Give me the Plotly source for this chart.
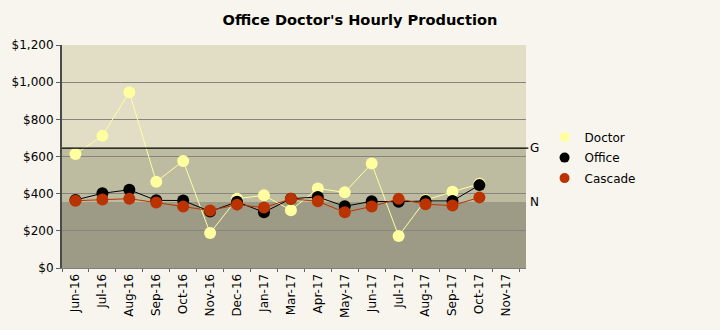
import plotly.graph_objects as go

categories = ["Jun-16", "Jul-16", "Aug-16", "Sep-16", "Oct-16", "Nov-16", "Dec-16",
              "Jan-17", "Mar-17", "Apr-17", "May-17", "Jun-17", "Jul-17", "Aug-17",
              "Sep-17", "Oct-17", "Nov-17"]
doctor = [613, 711, 946, 464, 576, 188, 373, 391, 311, 428, 407, 562, 172, 366, 410, 453, None]
office = [366, 402, 421, 364, 363, 304, 356, 300, 373, 382, 332, 359, 356, 361, 361, 446, None]
cascade = [362, 368, 373, 352, 331, 309, 341, 325, 372, 359, 300, 331, 372, 343, 336, 380, None]
goal_value = 645
norm_value = 355
y_max = 1200

FONT = "DejaVu Sans"

fig = go.Figure()
series = [("Doctor", doctor, "#FFFFA0"),
          ("Office", office, "#000000"),
          ("Cascade", cascade, "#BB3300")]
for name, vals, col in series:
    fig.add_trace(go.Scatter(
        x=categories, y=vals, name=name, mode="lines+markers",
        line=dict(color=col, width=1),
        marker=dict(color=col, size=12, line=dict(width=0)),
        connectgaps=False, showlegend=False, legendgroup=name,
    ))
# legend-only marker entries
for name, vals, col in series:
    fig.add_trace(go.Scatter(
        x=[None], y=[None], name=name, mode="markers",
        marker=dict(color=col, size=10, line=dict(width=0)),
        showlegend=True, legendgroup=name,
    ))

# bands
fig.add_shape(type="rect", xref="paper", yref="y", x0=0, x1=1, y0=goal_value, y1=y_max,
              fillcolor="#E2DEC6", line=dict(width=0), layer="below")
fig.add_shape(type="rect", xref="paper", yref="y", x0=0, x1=1, y0=norm_value, y1=goal_value,
              fillcolor="#BDBCA0", line=dict(width=0), layer="below")
fig.add_shape(type="rect", xref="paper", yref="y", x0=0, x1=1, y0=0, y1=norm_value,
              fillcolor="#9D9B85", line=dict(width=0), layer="below")
# goal line
fig.add_shape(type="line", xref="paper", yref="y", x0=0, x1=1.005, y0=goal_value, y1=goal_value,
              line=dict(color="#000000", width=1.2), layer="above")

fig.add_annotation(xref="paper", yref="y", x=1.005, y=goal_value, text="G", showarrow=False,
                   xanchor="left", yanchor="middle", font=dict(family=FONT, size=12, color="#000"))
fig.add_annotation(xref="paper", yref="y", x=1.005, y=norm_value, text="N", showarrow=False,
                   xanchor="left", yanchor="middle", font=dict(family=FONT, size=12, color="#000"))

fig.update_layout(
    width=720, height=330,
    margin=dict(l=61, r=194, t=45, b=60),
    paper_bgcolor="#F8F5EE",
    plot_bgcolor="#9D9B85",
    font=dict(family=FONT, size=12, color="#000000"),
    title=dict(text="<b>Office Doctor's Hourly Production</b>", x=0.5, xref="container",
               xanchor="center", y=0.94, yanchor="middle",
               font=dict(family=FONT, size=14.6, color="#000")),
    showlegend=True,
    legend=dict(x=1.04, y=0.652, xanchor="left", yanchor="top", bgcolor="rgba(0,0,0,0)",
                font=dict(family=FONT, size=12), tracegroupgap=1.5),
    xaxis=dict(type="category", range=[-0.5, 16.73], tickangle=-90, showgrid=False,
               ticks="outside", tickson="boundaries", ticklen=3, tickcolor="#606060",
               showline=True, linecolor="#808080", linewidth=1,
               tickfont=dict(family=FONT, size=12), zeroline=False),
    yaxis=dict(range=[0, y_max], dtick=200, tickprefix="$", tickformat=",",
               showgrid=True, gridcolor="#85857D", gridwidth=1,
               ticks="outside", ticklen=4, tickcolor="#606060",
               showline=True, linecolor="#4A4A4A", linewidth=2,
               tickfont=dict(family=FONT, size=12), zeroline=False),
)

fig.write_html("out.html")
